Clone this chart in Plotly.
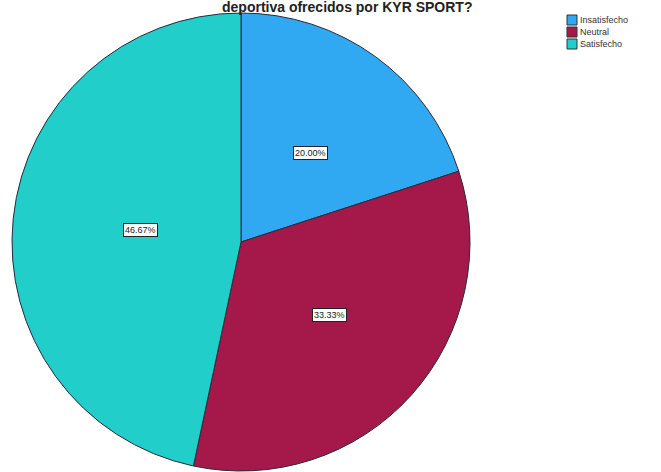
import math
import plotly.graph_objects as go

# Survey answers and their shares (%)
categories = ["Insatisfecho", "Neutral", "Satisfecho"]
percentages = [20.00, 33.33, 46.67]
colors = ["#30A8F2", "#A5184A", "#22CEC9"]
title_text = "deportiva ofrecidos por KYR SPORT?"

W, H = 661, 472
cx, cy, r = 241, 242, 229  # pie centre / radius in pixels (from top-left)

fig = go.Figure(
    go.Pie(
        labels=categories,
        values=percentages,
        sort=False,
        direction="clockwise",
        rotation=0,
        marker=dict(colors=colors, line=dict(color="#2a2a3a", width=1)),
        textinfo="none",
        hoverinfo="label+percent",
        showlegend=False,
        domain=dict(
            x=[(cx - r) / W, (cx + r) / W],
            y=[(H - cy - r) / H, (H - cy + r) / H],
        ),
    )
)

annotations = []
shapes = []

# Boxed percentage labels placed inside each slice along its mid-angle
total = sum(percentages)
start = 0.0
for cat, val in zip(categories, percentages):
    mid = (start + val / 2) / total * 2 * math.pi
    start += val
    px = cx + 0.52 * r * math.sin(mid)
    py = cy - 0.52 * r * math.cos(mid)
    annotations.append(dict(
        x=px / W, y=1 - py / H, xref="paper", yref="paper",
        text=f"{val:.2f}%", showarrow=False,
        font=dict(family="Arial, Liberation Sans", size=9, color="#222"),
        bgcolor="white", bordercolor="#222", borderwidth=1, borderpad=1,
    ))

# Title line above the pie
annotations.append(dict(
    x=347 / W, y=1 - 7 / H, xref="paper", yref="paper",
    text=f"<b>{title_text}</b>", showarrow=False,
    font=dict(family="Arial, Liberation Sans", size=14, color="#222"),
    xanchor="center", yanchor="middle",
))

# Compact legend in the top-right corner
for i, (cat, col) in enumerate(zip(categories, colors)):
    top = 15 + i * 12
    shapes.append(dict(
        type="rect", xref="paper", yref="paper",
        x0=567 / W, x1=577 / W, y0=1 - (top + 10) / H, y1=1 - top / H,
        fillcolor=col, line=dict(color="#333", width=1),
    ))
    annotations.append(dict(
        x=578 / W, y=1 - (top + 5) / H, xref="paper", yref="paper",
        text=cat, showarrow=False, xanchor="left", yanchor="middle",
        font=dict(family="Arial, Liberation Sans", size=9, color="#333"),
    ))

fig.update_layout(
    width=W, height=H,
    margin=dict(l=0, r=0, t=0, b=0),
    paper_bgcolor="white", plot_bgcolor="white",
    annotations=annotations, shapes=shapes,
)

fig.write_html("out.html")
